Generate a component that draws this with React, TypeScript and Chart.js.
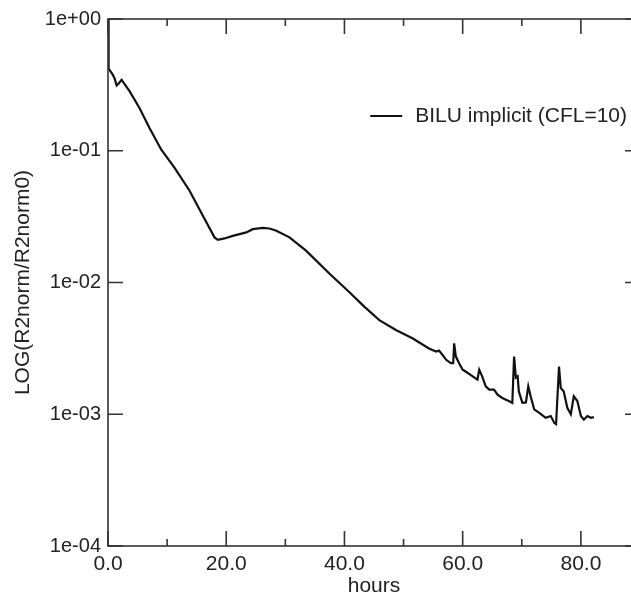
import React, { useEffect, useRef } from "react";
import { Chart, registerables } from "chart.js";

Chart.register(...registerables);

const hours = [
  0, 0.1, 0.46, 0.79, 1.13, 1.47, 1.81, 2.3, 3.67, 5.35, 7.04, 9.02, 11.27, 13.8, 15.78,
  18.02, 18.58, 19.7, 21.1, 23.4, 24.5, 26.2, 27.3, 28.4, 30.7, 33.5, 37.4, 40.8, 43.4,
  45.9, 48.7, 51.5, 54.3, 55.5, 56.0, 56.6, 57.2, 58.0, 58.4, 58.56, 58.85, 59.4, 60.0,
  60.5, 61.7, 62.5, 62.8, 63.3, 63.9, 64.5, 65.3, 65.9, 66.7, 67.8, 68.4, 68.7, 69.0,
  69.3, 69.5, 70.1, 70.7, 71.1, 71.5, 72.1, 72.9, 74.05, 74.9, 75.5, 75.8, 76.3, 76.6,
  77.1, 77.7, 78.3, 78.8, 79.4, 80.0, 80.5, 81.1, 81.7, 82.2,
];

const residual = [
  1.0, 0.42, 0.399, 0.378, 0.353, 0.313, 0.324, 0.345, 0.282, 0.21, 0.148, 0.1018, 0.0741,
  0.0497, 0.0339, 0.022, 0.0211, 0.0216, 0.0226, 0.024, 0.0254, 0.026, 0.0257, 0.0248,
  0.022, 0.01746, 0.01177, 0.00847, 0.00653, 0.00518, 0.00436, 0.00377, 0.00316, 0.00299,
  0.00304, 0.00282, 0.00259, 0.00244, 0.00244, 0.00345, 0.00274, 0.00244, 0.00218, 0.00211,
  0.00194, 0.00183, 0.00218, 0.00194, 0.00163, 0.00154, 0.00154, 0.00141, 0.00133, 0.00126,
  0.00122, 0.00274, 0.0019, 0.00194, 0.00149, 0.00122, 0.00123, 0.00163, 0.00137, 0.00109,
  0.00103, 0.00094, 0.00097, 0.00086, 0.00084, 0.0023, 0.00158, 0.00149, 0.00112, 0.001,
  0.00137, 0.00126, 0.00097, 0.00091, 0.00097, 0.00094, 0.00095,
];

const xMajorTicks = [0, 20, 40, 60, 80];
const xMinorTicks = [10, 30, 50, 70];
const yTicks = [1e-4, 1e-3, 1e-2, 1e-1, 1];
const seriesLabel = "BILU implicit (CFL=10)";
const xTitle = "hours";
const yTitle = "LOG(R2norm/R2norm0)";

const FONT = '"Liberation Sans", Arial, Helvetica, sans-serif';
const TEXT = "#222222";
const AXIS = "#333333";

function fmtExp(v: number): string {
  const e = Math.round(Math.log10(v));
  const sign = e < 0 ? "-" : "+";
  return "1e" + sign + String(Math.abs(e)).padStart(2, "0");
}

const framePlugin = {
  id: "frameTicks",
  afterDraw(chart: any) {
    const { ctx, chartArea } = chart;
    const { left, right, top, bottom } = chartArea;
    const xs = chart.scales.x;
    const ys = chart.scales.y;
    ctx.save();
    ctx.strokeStyle = AXIS;
    ctx.lineWidth = 1.6;
    ctx.strokeRect(left, top, right - left, bottom - top);
    ctx.beginPath();
    for (const v of yTicks) {
      const y = ys.getPixelForValue(v);
      ctx.moveTo(left, y);
      ctx.lineTo(left + 15, y);
      ctx.moveTo(right, y);
      ctx.lineTo(right - 15, y);
    }
    for (const v of xMajorTicks) {
      const x = xs.getPixelForValue(v);
      ctx.moveTo(x, bottom);
      ctx.lineTo(x, bottom - 15);
      ctx.moveTo(x, top);
      ctx.lineTo(x, top + 15);
    }
    for (const v of xMinorTicks) {
      const x = xs.getPixelForValue(v);
      ctx.moveTo(x, bottom);
      ctx.lineTo(x, bottom - 7);
      ctx.moveTo(x, top);
      ctx.lineTo(x, top + 7);
    }
    ctx.stroke();

    // legend
    ctx.font = "21px " + FONT;
    ctx.fillStyle = TEXT;
    ctx.textAlign = "right";
    ctx.textBaseline = "middle";
    const tx = 627;
    const ty = 116;
    ctx.fillText(seriesLabel, tx, ty);
    const w = ctx.measureText(seriesLabel).width;
    const lx = tx - w - 13;
    ctx.beginPath();
    ctx.strokeStyle = "#111111";
    ctx.lineWidth = 2.2;
    ctx.moveTo(lx - 32, ty);
    ctx.lineTo(lx, ty);
    ctx.stroke();
    ctx.restore();
  },
};

export default function App() {
  const ref = useRef<HTMLCanvasElement>(null);

  useEffect(() => {
    if (!ref.current) return;
    const data = hours.map((h, i) => ({ x: h, y: residual[i] }));
    const chart = new Chart(ref.current, {
      type: "scatter",
      data: {
        datasets: [
          {
            label: seriesLabel,
            data,
            showLine: true,
            borderColor: "#111111",
            backgroundColor: "#111111",
            borderWidth: 2.2,
            pointRadius: 0,
            tension: 0,
          },
        ],
      },
      options: {
        responsive: false,
        animation: false,
        devicePixelRatio: 1,
        layout: { padding: { top: 15, right: 20, left: 0, bottom: 0 } },
        plugins: { legend: { display: false }, tooltip: { enabled: false } },
        scales: {
          x: {
            type: "linear",
            position: "bottom",
            min: 0,
            max: 90,
            grid: { display: false, drawTicks: false },
            border: { display: false },
            afterBuildTicks: (s: any) => {
              s.ticks = xMajorTicks.map((v) => ({ value: v }));
            },
            afterFit: (s: any) => {
              s.height = 54;
            },
            ticks: {
              color: TEXT,
              font: { size: 21, family: FONT },
              padding: 6,
              maxRotation: 0,
              autoSkip: false,
              callback: (v: any) => Number(v).toFixed(1),
            },
            title: {
              display: true,
              text: xTitle,
              color: TEXT,
              font: { size: 21, family: FONT, lineHeight: 1 },
              padding: { top: 0, bottom: 3 },
            },
          },
          y: {
            type: "logarithmic",
            min: 1e-4,
            max: 1,
            grid: { display: false, drawTicks: false },
            border: { display: false },
            afterBuildTicks: (s: any) => {
              s.ticks = yTicks.map((v) => ({ value: v }));
            },
            afterFit: (s: any) => {
              s.width = 108;
            },
            ticks: {
              color: TEXT,
              font: { size: 20, family: FONT },
              padding: 7,
              autoSkip: false,
              callback: (v: any) => fmtExp(Number(v)),
            },
            title: {
              display: true,
              text: yTitle,
              color: TEXT,
              font: { size: 21, family: FONT, lineHeight: 1 },
              padding: { top: 13, bottom: 0 },
            },
          },
        },
      },
      plugins: [framePlugin],
    });
    return () => chart.destroy();
  }, []);

  return (
    <div
      style={{
        position: "fixed",
        left: 0,
        top: 0,
        width: 631,
        height: 594,
        overflow: "hidden",
        background: "#ffffff",
      }}
    >
      <canvas ref={ref} width={660} height={600} style={{ display: "block", width: 660, height: 600 }} />
    </div>
  );
}
